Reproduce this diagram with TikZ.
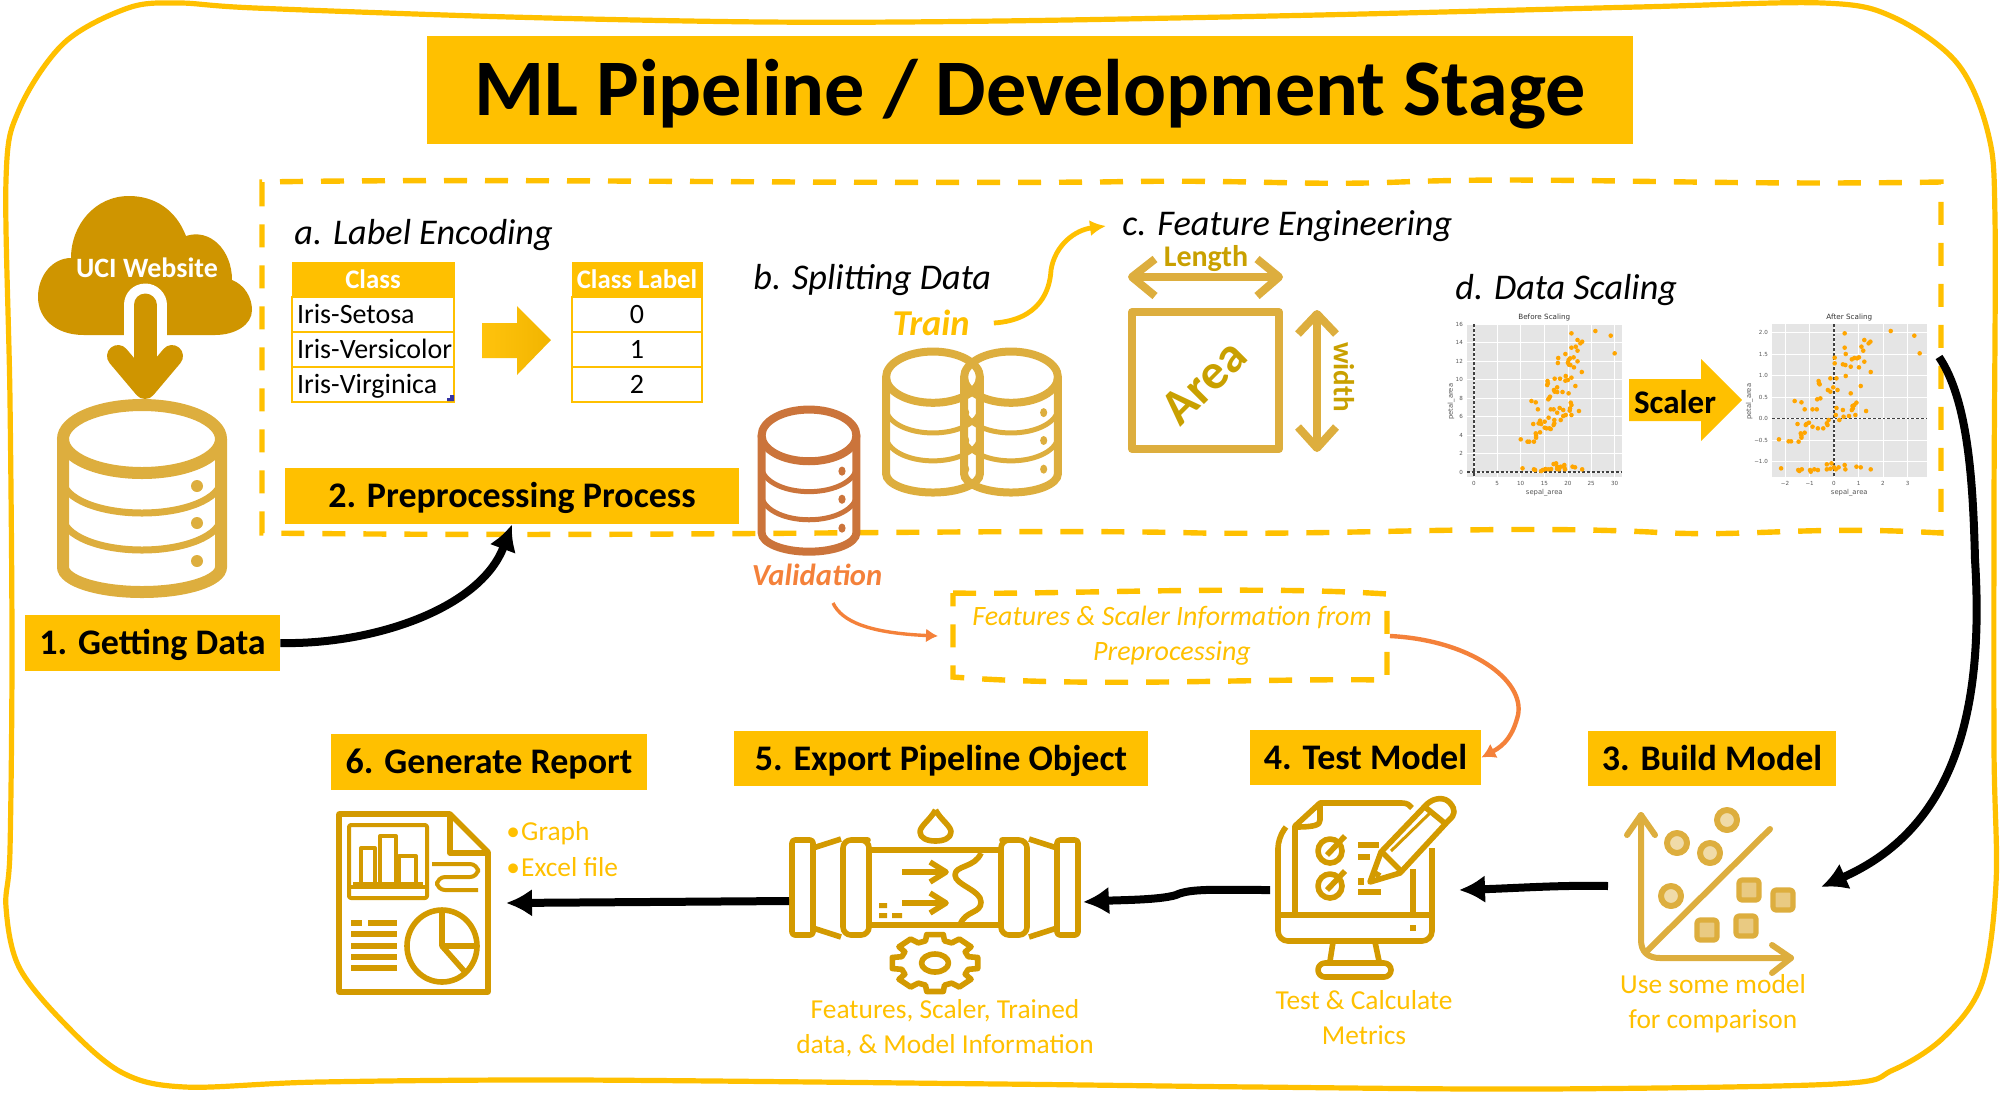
\documentclass[tikz,border=0pt]{standalone}
\usepackage{fontspec}
\setmainfont{Carlito}
\newfontfamily\plotfont{DejaVu Sans}
\usetikzlibrary{arrows.meta,calc}
\definecolor{gold}{HTML}{FFC000}
\definecolor{iconA}{HTML}{D39A00}
\definecolor{iconB}{HTML}{DDAE3E}
\definecolor{cloudc}{HTML}{CF9500}
\definecolor{valc}{HTML}{CB743B}
\definecolor{orangec}{HTML}{F4813A}
\definecolor{areac}{HTML}{C9A000}
\definecolor{plotbg}{HTML}{E5E5E5}
\definecolor{dotc}{HTML}{FFA500}
\definecolor{tickc}{HTML}{555555}
\newcommand{\fz}[1]{\fontsize{#1}{#1}\selectfont}
\newcommand{\dbicon}[7]{%
 \begin{scope}[shift={(#1,#2)},x=#3*0.5pt,y=-#4*0.5pt,draw=#5,line cap=butt]
  \draw[line width=#6] (0,40) ellipse [x radius=79,y radius=34];
  \draw[line width=#6] (-79,40) -- (-79,168) arc[start angle=180,end angle=0,x radius=79,y radius=25] -- (79,40);
  \draw[line width=#7] (-79,81) arc[start angle=180,end angle=0,x radius=79,y radius=33];
  \draw[line width=#7] (-79,118) arc[start angle=180,end angle=0,x radius=79,y radius=33];
  \fill[#5] (55,87) ellipse [x radius=6,y radius=6] (55,124) ellipse [x radius=6,y radius=6] (55,162) ellipse [x radius=6,y radius=6];
 \end{scope}}
\tikzset{
 x=0.5pt,y=-0.5pt,
 lab/.style={fill=gold,inner sep=0pt,font=\fz{18}\bfseries,text=black,text height=14pt,text depth=2.4pt},
 captext/.style={text=gold,font=\fz{13.7},inner sep=0pt,align=center},
 subhead/.style={font=\fz{18.1}\itshape,inner sep=0pt,text=black},
 dashline/.style={draw=gold,line width=2.7pt,dash pattern=on 11.5pt off 9pt},
 blackarrow/.style={draw=black,line width=4pt,-{Latex[length=13pt,width=14pt]}},
 cellA/.style={draw=gold,line width=.8pt,inner xsep=2.5pt,inner ysep=0pt,minimum height=17.5pt,text width=76pt,align=left,font=\fz{14},text height=12pt,text depth=3pt},
 cellB/.style={draw=gold,line width=.8pt,inner sep=0pt,minimum height=17.5pt,minimum width=65pt,align=center,font=\fz{14},text height=12pt,text depth=3pt},
 headc/.style={fill=gold,draw=gold,inner sep=0pt,minimum height=17.5pt,text=white,font=\fz{13.4}\bfseries,text height=11.6pt,text depth=3pt},
 ticklab/.style={font=\plotfont\fz{2.8},text=tickc,inner sep=0pt},
 axlab/.style={font=\plotfont\fz{3.4},text=tickc,inner sep=0pt},
 ptitle/.style={font=\plotfont\fz{3.6},text=black!80,inner sep=0pt},
 iconsA/.style={draw=iconA,line width=2.8pt,line join=round},
 iconsB/.style={draw=iconB,line width=3pt,line join=round,line cap=round},
}
\begin{document}
\begin{tikzpicture}
\useasboundingbox (0,0) rectangle (2000,1093);
% outer frame
\draw[gold,line width=2.6pt] plot[smooth cycle,tension=.55] coordinates {
(179,3)(255,8)(510,17)(765,22)(1000,21)(1319,15)(1638,7)(1823,3)(1893,17)(1957,63)(1988,133)(1995,220)(1994,500)(1994,750)(1996,883)(1982,983)(1944,1037)(1893,1070)(1835,1084)(1542,1089)(1255,1087)(1000,1084)(574,1080)(319,1082)(185,1087)(121,1072)(64,1023)(19,967)(6,907)(10,850)(12,650)(10,400)(6,180)(19,110)(64,43)(128,8)};
% title
\node[lab,minimum width=603pt,minimum height=54pt,font=\fz{40.1}\bfseries,text height=30pt,text depth=4.2pt] (title) at (1030,90) {ML Pipeline / Development Stage};
% dashed preprocessing box
\draw[dashline] (262,205) -- (262,182) .. controls (500,178) and (800,184) .. (1100,182) .. controls (1250,179) and (1300,186) .. (1400,182) .. controls (1550,176) and (1700,186) .. (1941,182) -- (1941,533)
  .. controls (1800,525) and (1750,538) .. (1650,532) .. controls (1500,525) and (1350,535) .. (1200,533) .. controls (1000,528) and (700,538) .. (262,533) -- cycle;
% cloud
\fill[cloudc] (84,335) .. controls (55,335) and (38,318) .. (38,297) .. controls (38,275) and (53,258) .. (71,258) .. controls (71,225) and (95,196) .. (129,196) .. controls (155,196) and (176,210) .. (186,236) .. controls (210,228) and (232,250) .. (232,280) .. controls (245,285) and (252,298) .. (252,310) .. controls (252,325) and (235,335) .. (215,335) -- cycle;
\draw[white,line width=21.5pt,line cap=round] (145,305) -- (145,320);
\draw[white,line width=21.5pt] (145,305) -- (145,336);
\node[font=\fz{14}\bfseries,text=white,inner sep=0pt] (uci) at (147,268) {UCI Website};
\draw[cloudc,line width=11.5pt,line cap=round] (145,305) -- (145,375);
\draw[cloudc,line width=11pt,line cap=round,line join=round] (118,356) -- (145,388) -- (172,356);
% main database
\dbicon{142}{399}{1}{1}{iconB}{6pt}{3.5pt}
\node[lab,minimum width=127.5pt,minimum height=28pt] (getting) at (152.5,643) {1. Getting Data};
\node[lab,minimum width=227pt,minimum height=28pt] (prep) at (512,496) {2. Preprocessing Process};
\draw[blackarrow] (getting.east) .. controls (370,645) and (480,610) .. (prep.south);
% a. label encoding
\node[subhead,anchor=west] (lblA) at (294,235) {a. Label Encoding};
\node[headc,minimum width=81pt] (h1) at (373,279.5) {Class};
\node[cellA] (r1) at (373,314.5) {\mbox{Iris-Setosa}};
\node[cellA] (r2) at (373,349.5) {\mbox{Iris-Versicolor}};
\node[cellA] (r3) at (373,384.5) {\mbox{Iris-Virginica}};
\fill[blue!55!black!80] (447,401) -- (454,401) -- (454,395) -- (450,395) -- (450,398) -- (447,398) -- cycle;
\node[headc,minimum width=65pt] (h2) at (637,279.5) {Class Label};
\node[cellB] (s1) at (637,314.5) {0};
\node[cellB] (s2) at (637,349.5) {1};
\node[cellB] (s3) at (637,384.5) {2};
\shade[left color=gold!95!white,right color=iconA!30!gold] (482,323) -- (517,323) -- (517,306) -- (551,340) -- (517,375) -- (517,358) -- (482,358) -- cycle;
% b. splitting
\node[subhead,anchor=west] (lblB) at (753,280) {b. Splitting Data};
\node[font=\fz{18.2}\bfseries\itshape,text=gold,inner sep=0pt] (train) at (931,323) {Train};
\dbicon{933}{347}{0.594}{0.754}{iconB}{4pt}{2.5pt}
\dbicon{1011}{347}{0.594}{0.754}{iconB}{4pt}{2.5pt}
\dbicon{809}{405}{0.6}{0.76}{valc}{4pt}{2.5pt}
\node[font=\fz{15.3}\bfseries\itshape,text=orangec,inner sep=0pt] (val) at (817,575) {Validation};
% c. feature engineering
\node[subhead,anchor=west] (lblC) at (1122,226) {c. Feature Engineering};
\draw[gold,line width=2.4pt,-{Latex[length=8pt,width=8pt]}] ([xshift=12pt]train.east) .. controls (1040,320) and (1050,290) .. (1051,270) .. controls (1055,245) and (1075,230) .. ([xshift=-8pt]lblC.west);
\draw[iconB,line width=4pt,line join=round] (1132,277) -- (1279,277);
\draw[iconB,line width=4pt,line join=round] (1155,259) -- (1132,277) -- (1155,296);
\draw[iconB,line width=4pt,line join=round] (1257,259) -- (1279,277) -- (1257,296);
\node[font=\fz{15}\bfseries,text=areac,inner sep=0pt] (len) at (1206,259) {Length};
\draw[iconB,line width=4pt,line join=round] (1132,312) rectangle (1279,449);
\node[font=\fz{25}\bfseries,text=areac,inner sep=0pt,rotate=45] (area) at (1204,382) {Area};
\draw[iconB,line width=4pt,line join=round] (1317,314) -- (1317,448);
\draw[iconB,line width=4pt,line join=round] (1298,334) -- (1317,314) -- (1336,334);
\draw[iconB,line width=4pt,line join=round] (1298,427) -- (1317,448) -- (1336,427);
\node[font=\fz{14.5}\bfseries,text=areac,inner sep=0pt,rotate=-90] (wid) at (1344,377) {width};
% d. data scaling
\node[subhead,anchor=west] (lblD) at (1455,290) {d. Data Scaling};
\begin{scope}[shift={(1400,270)},x=0.17857pt,y=-0.16667pt]
 % plot 1
 \fill[plotbg] (188,162) rectangle (622,622);
 \draw[white,line width=.3pt] \foreach \v in {162,217,273,328,384,439,495,551,606}{(188,\v) -- (622,\v)} \foreach \v in {207,272,338,404,470,535,601}{(\v,162) -- (\v,622)};
 \draw[black!75,line width=.6pt,dash pattern=on 1.4pt off 1pt] (207,162) -- (207,622) (188,606) -- (622,606);
 \foreach \px/\py in {547/183,590/197,601/250,480/190,497/210,510/215,505/220,492/230,497/242,480/233,463/252,443/264,442/279,486/262,476/265,472/270,470/278,497/274,477/285,487/292,473/284,509/306,464/318,480/323,491/348,470/330,463/332,433/326,448/326,413/333,414/340,412/345,420/380,417/385,431/360,440/352,433/365,440/366,455/366,472/370,368/393,380/397,386/418,415/388,422/418,430/418,447/414,457/420,440/428,478/398,480/405,476/415,475/422,501/423,464/435,457/438,480/435,450/450,432/450,432/460,430/465,416/443,405/455,392/452,395/462,388/460,373/462,380/490,381/497,381/503,392/487,418/475,410/475,405/473,422/477,338/508,357/515,362/515,375/515,343/595,375/598,378/600,400/600,407/597,415/598,430/582,437/580,423/597,440/597,450/590,460/585,462/598,445/598,483/590,490/592,510/598,395/603,440/590,460/592}
   \fill[dotc] (\px,\py) circle (1.15pt);
 \foreach \lab/\pos in {0/207,5/272,10/338,15/404,20/470,25/535,30/601}
   \node[ticklab] (bx\lab) at (\pos,640) {\lab};
 \foreach \lab/\pos in {0/606,2/551,4/495,6/439,8/384,10/328,12/273,14/217,16/162}
   \node[ticklab,anchor=east] (by\lab) at (177,\pos) {\lab};
 \node[axlab] (bxl) at (404,668) {sepal\_area};
 \node[axlab,rotate=90] (byl) at (143,395) {petal\_area};
 \node[ptitle] (bt) at (404,142) {Before Scaling};
 % plot 2
 \fill[plotbg] (1042,162) rectangle (1475,622);
 \draw[white,line width=.3pt] \foreach \v in {187,252,316,381,445,510,575}{(1042,\v) -- (1475,\v)} \foreach \v in {1078,1147,1215,1284,1352,1421}{(\v,162) -- (\v,622)};
 \draw[black!75,line width=.6pt,dash pattern=on 1.4pt off 1pt] (1215,162) -- (1215,622) (1042,445) -- (1475,445);
 \foreach \px/\py in {1374/183,1440/197,1455/250,1245/190,1300/210,1317/215,1312/220,1292/230,1297/242,1245/233,1217/263,1217/280,1248/252,1265/268,1272/264,1280/265,1285/262,1240/283,1247/285,1262/290,1300/275,1285/292,1318/306,1248/318,1222/325,1205/325,1290/348,1172/333,1173/340,1175/343,1213/352,1225/360,1198/360,1205/365,1262/370,1177/385,1168/388,1105/393,1124/397,1133/418,1155/418,1167/418,1222/414,1240/420,1272/405,1267/408,1278/398,1268/415,1265/420,1305/423,1257/438,1242/440,1220/435,1275/435,1230/450,1200/450,1195/460,1197/465,1185/475,1170/475,1155/470,1145/458,1138/462,1113/462,1136/465,1133/488,1122/490,1124/497,1124/503,1061/508,1088/514,1095/514,1116/515,1067/595,1115/600,1118/603,1125/598,1148/600,1160/598,1170/600,1195/583,1208/580,1195/598,1220/598,1228/592,1245/585,1247/598,1215/592,1278/590,1290/592,1318/598,1150/605,1205/596}
   \fill[dotc] (\px,\py) circle (1.15pt);
 \foreach \n/\lab/\pos in {a/−2/1078,b/−1/1147,c/0/1215,d/1/1284,e/2/1352,f/3/1421}
   \node[ticklab] (ax\n) at (\pos,640) {\lab};
 \foreach \n/\lab/\pos in {a/2.0/187,b/1.5/252,c/1.0/316,d/0.5/381,e/0.0/445,f/−0.5/510,g/−1.0/575}
   \node[ticklab,anchor=east] (ay\n) at (1031,\pos) {\lab};
 \node[axlab] (axl) at (1258,668) {sepal\_area};
 \node[axlab,rotate=90] (ayl) at (978,395) {petal\_area};
 \node[ptitle] (at) at (1258,142) {After Scaling};
\end{scope}
% scaler arrow
\fill[gold] (1629,379) -- (1701,379) -- (1701,359) -- (1742,400) -- (1701,441) -- (1701,421) -- (1629,421) -- cycle;
\node[font=\fz{16.5}\bfseries,inner sep=0pt] (scaler) at (1675,402) {Scaler};
% features box
\draw[dashline] (953,593) .. controls (1050,595) and (1250,585) .. (1387,594) -- (1387,680) .. controls (1250,678) and (1100,688) .. (953,677) -- cycle;
\node[captext,font=\fz{14}\itshape] (feat) at (1172,636) {Features \& Scaler Information from\\[3.4pt]Preprocessing};
\coordinate (featW) at (938,636);
\coordinate (featE) at (1390,636);
\coordinate (valS) at (833,603);
\draw[orangec,line width=1.7pt,-{Latex[length=6pt,width=7pt]}] (valS) .. controls (842,622) and (870,633) .. (featW);
% labels row
\node[lab,minimum width=124pt,minimum height=27.5pt] (build) at (1712,758.5) {3. Build Model};
\node[lab,minimum width=115.5pt,minimum height=27.5pt] (test) at (1365.5,757.5) {4. Test Model};
\node[lab,minimum width=207pt,minimum height=27.5pt] (export) at (941,758.5) {5. Export Pipeline Object};
\node[lab,minimum width=158pt,minimum height=28pt] (report) at (489,762) {6. Generate Report};
\draw[orangec,line width=2.2pt,-{Latex[length=7pt,width=8pt]}] (featE) .. controls (1470,640) and (1525,680) .. (1518,715) .. controls (1513,735) and (1505,745) .. (test.east);
% big black arrow
\coordinate (scaleEnd) at (1939,357);
\coordinate (buildIn) at (1821,887);
\draw[blackarrow] (scaleEnd) .. controls (1968,400) and (1973,480) .. (1975,560) .. controls (1985,720) and (1950,830) .. (buildIn);
% build icon
\begin{scope}[iconsB]
 \draw (1641,815) -- (1641,940) .. controls (1641,952) and (1648,958) .. (1660,958) -- (1791,958);
 \draw (1627,835) -- (1641,815) -- (1655,835);
 \draw (1772,945) -- (1791,958) -- (1772,973);
 \draw (1646,952) -- (1770,829);
 \foreach \cx/\cy in {1727/820,1677/843,1710/853,1671/896}
   \draw[fill=iconB!45!white] (\cx,\cy) circle (5pt);
 \foreach \cx/\cy in {1749/890,1783/900,1707/930,1746/926}
   \draw[fill=iconB!65!white,rounded corners=1.5pt,line width=2.6pt] (\cx-10,\cy-10) rectangle (\cx+10,\cy+10);
\end{scope}
\node[captext] (capB) at (1713,1004) {Use some model\\[3.8pt]for comparison};
\coordinate (buildW) at (1608,886);
% test icon
\begin{scope}[iconsA]
 \draw[rounded corners=5pt] (1286,827) -- (1278,838) -- (1278,941) -- (1432,941) -- (1432,848);
 \draw (1278,915) -- (1432,915);
 \draw (1333,942) -- (1330,961) (1375,942) -- (1379,961);
 \draw[rounded corners=3.5pt] (1318,963) rectangle (1391,977);
 \fill[iconA,draw=none] (1410,925) rectangle (1416,931);
 \draw (1295,913) -- (1295,826) -- (1320,803) -- (1402,803) .. controls (1407,803) and (1410,805) .. (1412,808);
 \draw (1320,803) -- (1320,820) .. controls (1320,825) and (1315,827) .. (1295,827);
 \draw (1413,869) -- (1413,913);
 \draw (1330,851) circle (6pt) (1330,886) circle (6pt);
 \draw[line width=2.8pt] (1327,855) -- (1345,836) (1327,890) -- (1345,871);
 \draw (1358,845) -- (1379,845) (1358,857) -- (1370,857) (1358,892) -- (1381,892);
 \fill[iconA,draw=none] (1358,878) rectangle (1364,885);
 \draw (1370,882) -- (1381,852) -- (1427,804) .. controls (1435,797) and (1445,797) .. (1450,803) .. controls (1456,810) and (1455,815) .. (1449,820) -- (1400,873) -- cycle;
 \draw (1383,853) -- (1400,870) (1425,807) -- (1447,825) (1373,872) -- (1380,876);
 \draw[line width=1.5pt] (1391,851) -- (1431,812);
\end{scope}
\node[captext] (capT) at (1364,1018) {Test \& Calculate\\[3.8pt]Metrics};
\coordinate (testE) at (1459,890);
\coordinate (testW) at (1270,890);
\draw[blackarrow] (buildW) .. controls (1560,885) and (1520,888) .. (testE);
% pipeline icon
\begin{scope}[iconsA]
 \foreach \flip/\cen in {1/0,-1/1870}{
  \begin{scope}[shift={(\cen,0)},x=\flip*0.5pt]
   \draw[rounded corners=1.5pt] (792,840) rectangle (813,935);
   \draw (813,848) -- (841,839) (813,928) -- (841,937);
   \draw[rounded corners=4pt] (843,840) -- (860,840) -- (869,840) -- (869,935) -- (843,935) -- cycle;
  \end{scope}}
 \draw (869,850) -- (1001,850) (869,925) -- (1001,925);
 \draw (981,853) .. controls (975,868) and (955,865) .. (955,875) .. controls (955,885) and (981,890) .. (981,902) .. controls (981,914) and (965,910) .. (960,925);
 \foreach \ay in {872,903}{
  \draw (902,\ay) -- (946,\ay);
  \draw (930,\ay-10) -- (946,\ay) -- (930,\ay+10);}
 \fill[iconA,draw=none] (879,903) rectangle (887,908) (879,913) rectangle (887,918) (892,913) rectangle (902,918);
 \draw (935.5,810) .. controls (930,820) and (920,826) .. (920,832) .. controls (920,838) and (927,841) .. (935.5,841) .. controls (944,841) and (951,838) .. (951,832) .. controls (951,826) and (941,820) .. (935.5,810);
 \begin{scope}[shift={(935,963)},x=0.75pt,y=-0.5pt]
  \draw (-16:23) \foreach \a in {0,45,...,315}{ -- (\a-16:23) -- (\a-11:29) -- (\a+11:29) -- (\a+16:23)} -- cycle;
  \draw (0,0) circle [x radius=9,y radius=9];
 \end{scope}
\end{scope}
\node[captext] (capP) at (945,1028) {Features, Scaler, Trained\\[3.8pt]data, \& Model Information};
\coordinate (pipeE) at (1083,902);
\coordinate (pipeW) at (789,901);
\draw[blackarrow] (testW) .. controls (1220,890) and (1190,888) .. (1176,895) .. controls (1160,900) and (1120,900) .. (pipeE);
% report icon
\begin{scope}[iconsA]
 \draw (339,814) -- (450,814) -- (488,852) -- (488,992) -- (339,992) -- cycle;
 \draw (450,814) -- (450,853) -- (488,853);
 \draw[line width=2pt,rounded corners=1pt] (349,825) rectangle (427,898);
 \draw[line width=2pt] (349,887) -- (427,887) (361,883) -- (361,848) -- (375,848) -- (375,883) (380,883) -- (380,836) -- (396,836) -- (396,883) (399,883) -- (399,856) -- (416,856) -- (416,883) (353,884) -- (423,884);
 \draw[line width=2pt,rounded corners=4pt] (432,864) -- (478,864) -- (478,877) -- (437,877) -- (437,890) -- (478,890);
 \draw (351,923) -- (362,923) (368,923) -- (397,923) (351,934) -- (397,934) (351,946) -- (397,946) (351,957) -- (397,957) (351,968) -- (397,968);
 \draw (442,946) ellipse [x radius=35,y radius=36];
 \draw (442,910) -- (442,946) -- (477,946) (442,946) -- (465,972);
\end{scope}
\node[captext,anchor=west,align=left,font=\fz{13.7}] (rep1) at (506,833) {•\kern.6pt Graph};
\node[captext,anchor=west,align=left,font=\fz{13.7}] (rep2) at (506,867) {•\kern.6pt Excel file};
\coordinate (reportE) at (506,903);
\draw[blackarrow] (pipeW) -- (reportE);
\end{tikzpicture}
\end{document}
